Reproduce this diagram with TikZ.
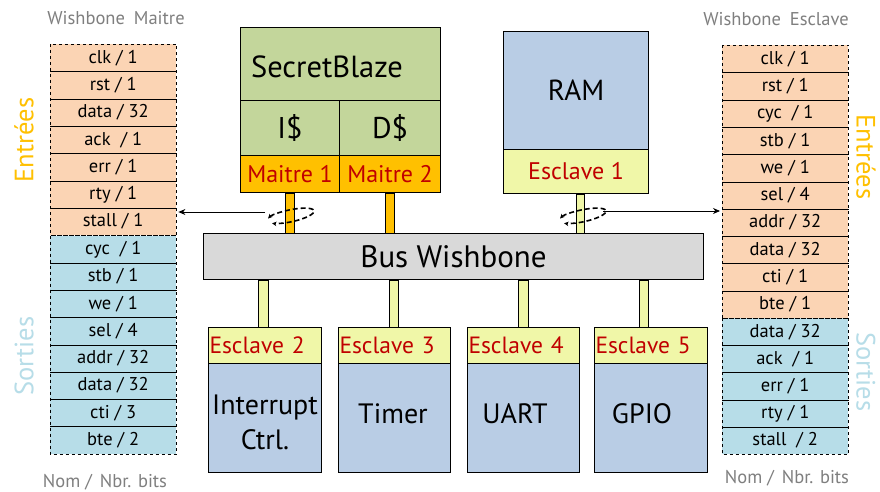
\documentclass[tikz,border=0pt]{standalone}
\usepackage{fontspec}
\setmainfont{PT Sans}
\usetikzlibrary{arrows.meta,calc}
\definecolor{peach}{HTML}{FBD4B4}
\definecolor{lblue}{HTML}{B7DDE8}
\definecolor{entc}{HTML}{FFC000}
\definecolor{sortc}{HTML}{B7DDE8}
\definecolor{hdgray}{HTML}{7F7F7F}
\definecolor{sbgreen}{HTML}{C3D69B}
\definecolor{morange}{HTML}{FFC000}
\definecolor{ramblue}{HTML}{B9CDE5}
\definecolor{eyellow}{HTML}{F0F7A8}
\definecolor{redtxt}{HTML}{C00000}
\definecolor{busgray}{HTML}{D9D9D9}
\newcommand{\fs}[1]{\fontsize{#1}{#1}\selectfont}
\begin{document}
\begin{tikzpicture}[x=1pt,y=-1pt,
  rowcell/.style={anchor=north west, minimum width=126pt, inner sep=0pt, font=\fs{18.5}},
  box/.style={draw=black, line width=1pt, anchor=north west, inner sep=0pt},
  esc/.style={box, fill=eyellow, minimum height=36pt, text width=111pt, inner xsep=1pt, align=left, text=redtxt, font=\fs{23.5}},
  body/.style={box, fill=ramblue, minimum height=109pt},
  hdr/.style={text=hdgray, font=\fs{18.5}},
  sep/.style={line width=0.7pt},
  grp/.style={dashed, line width=0.9pt},
  obar/.style={draw=black, line width=0.8pt, fill=morange},
  ybar/.style={draw=black, line width=0.8pt, fill=eyellow},
  wrap/.style={line width=1.6pt, dash pattern=on 5pt off 3pt, {Stealth[length=4.5pt,width=4.5pt]}-{Stealth[length=4.5pt,width=4.5pt]}},
  link/.style={line width=0.8pt, -{Stealth[length=7pt,width=6pt]}}]
\useasboundingbox (0,0) rectangle (880,492);
\fill[white] (0,0) rectangle (880,492);

% ---------- left table ----------
\foreach \t [count=\i] in {clk / 1, rst / 1, data / 32, ack\ \ / 1, err / 1, rty / 1, stall / 1}
  \node[rowcell, fill=peach, minimum height=27.3pt] (lt\i) at (50, {44+27.3*(\i-1)}) {\t};
\foreach \t [count=\i] in {cyc\ \ / 1, stb / 1, we / 1, sel / 4, addr / 32, data / 32, cti / 3, bte / 2}
  \node[rowcell, fill=lblue, minimum height=27.25pt] (lb\i) at (50, {235.6+27.25*(\i-1)}) {\t};
\foreach \i in {1,...,6} \draw[sep] (lt\i.south west) -- ([xshift=1pt]lt\i.south east);
\foreach \i in {1,...,7} \draw[sep] (lb\i.south west) -- ([xshift=1pt]lb\i.south east);
\draw[grp] (lt1.north west) rectangle (lt7.south east);
\draw[grp] (lb1.north west) rectangle (lb8.south east);

% ---------- right table ----------
\foreach \t [count=\i] in {clk / 1, rst / 1, cyc\ \ / 1, stb / 1, we / 1, sel / 4, addr / 32, data / 32, cti / 1, bte / 1}
  \node[rowcell, fill=peach, minimum height=27.3pt] (rt\i) at (722, {45+27.3*(\i-1)}) {\t};
\foreach \t [count=\i] in {data / 32, ack\ \ / 1, err / 1, rty / 1, stall\ \ / 2}
  \node[rowcell, fill=lblue, minimum height=27.2pt] (rb\i) at (722, {318+27.2*(\i-1)}) {\t};
\foreach \i in {1,...,9} \draw[sep] (rt\i.south west) -- ([xshift=1pt]rt\i.south east);
\foreach \i in {1,...,4} \draw[sep] (rb\i.south west) -- ([xshift=1pt]rb\i.south east);
\draw[grp] (rt1.north west) rectangle (rt10.south east);
\draw[grp] (rb1.north west) rectangle (rb5.south east);

% ---------- side labels ----------
\node[hdr] (hml) at (116,18) {Wishbone\hspace{9pt}Maitre};
\node[hdr] (hmb) at (105,482) {Nom /\hspace{8pt}Nbr. bits};
\node[hdr] (hel) at (776,19) {Wishbone\hspace{9pt}Esclave};
\node[hdr] (heb) at (787,478) {Nom /\hspace{8pt}Nbr. bits};
\node[rotate=90, text=entc, font=\fs{26.5}] (entL) at (24,140) {Entrées};
\node[rotate=90, text=sortc, font=\fs{26.5}] (sorL) at (24,356) {Sorties};
\node[rotate=-90, text=entc, font=\fs{26.5}] (entR) at (866,157) {Entrées};
\node[rotate=-90, text=sortc, font=\fs{26.5}] (sorR) at (866,372) {Sorties};

% ---------- processor ----------
\node[box, fill=sbgreen, minimum width=200pt, minimum height=73pt] (sb) at (240,27) {};
\node[font=\fs{30.5}] (sbt) at (327,67) {SecretBlaze};
\node[box, fill=sbgreen, minimum width=99pt, minimum height=55pt, font=\fs{30}] (ic) at (240,100) {I\$};
\node[box, fill=sbgreen, minimum width=101pt, minimum height=55pt, font=\fs{30}] (dc) at (339,100) {D\$};
\node[box, fill=morange, minimum width=99pt, minimum height=37pt, text=redtxt, font=\fs{24}] (m1) at (240,155) {Maitre 1};
\node[box, fill=morange, minimum width=101pt, minimum height=37pt, text=redtxt, font=\fs{24}] (m2) at (339,155) {Maitre 2};

% ---------- RAM ----------
\node[box, fill=ramblue, minimum width=145pt, minimum height=118pt, font=\fs{29}] (ram) at (503,31) {RAM};
\node[box, fill=eyellow, minimum width=145pt, minimum height=44pt, text=redtxt, font=\fs{24}] (e1) at (503,149) {Esclave 1};

% ---------- bus ----------
\node[box, fill=busgray, minimum width=500pt, minimum height=46pt, font=\fs{31}] (bus) at (203,233) {Bus Wishbone};

% ---------- bottom slaves ----------
\node[esc, minimum width=113pt] (e2) at (208,327) {Esclave 2};
\node[esc, minimum width=112pt, text width=110pt] (e3) at (338,327) {Esclave 3};
\node[esc, minimum width=112pt, text width=110pt] (e4) at (467,327) {Esclave 4};
\node[esc, minimum width=113pt] (e5) at (594,327) {Esclave 5};
\node[body, minimum width=113pt] (b2) at (208,363) {};
\node[body, minimum width=112pt] (b3) at (338,363) {};
\node[body, minimum width=112pt] (b4) at (467,363) {};
\node[body, minimum width=113pt] (b5) at (594,363) {};
\node[align=center, font=\fontsize{28}{35}\selectfont] (t2) at (265,422) {Interrupt\\Ctrl.};
\node[font=\fs{28}] (t3) at (393,414) {Timer};
\node[font=\fs{28}] (t4) at (515,414) {UART};
\node[font=\fs{28}] (t5) at (642,414) {GPIO};

% ---------- bars (bus connections) ----------
\draw[obar] ($(m1.south)+(-4.5,0)$) rectangle ($(m1.south |- bus.north)+(4.5,0)$);
\draw[obar] ($(m2.south)+(-4.5,0)$) rectangle ($(m2.south |- bus.north)+(4.5,0)$);
\draw[ybar] ($(e1.south)+(0.5,0)$) rectangle ($(e1.south |- bus.north)+(8.5,0)$);
\draw[ybar] ($(bus.south -| e2.north)+(-6.5,0)$) rectangle ($(e2.north)+(3.5,0)$);
\draw[ybar] ($(bus.south -| e3.north)+(-5,0)$) rectangle ($(e3.north)+(4,0)$);
\draw[ybar] ($(bus.south -| e4.north)+(-5,0)$) rectangle ($(e4.north)+(5,0)$);
\draw[ybar] ($(bus.south -| e5.north)+(-11.5,0)$) rectangle ($(e5.north)+(-2.5,0)$);

% ---------- wrap symbols and links ----------
\coordinate (wL) at (289,211);
\coordinate (wR) at (581,211);
\draw[wrap, rotate around={12:(wL)}] ($(wL)+(-22,3)$) arc[start angle=200, end angle=505, x radius=24, y radius=6];
\draw[wrap, rotate around={12:(wR)}] ($(wR)+(-22,3)$) arc[start angle=200, end angle=505, x radius=24, y radius=6];
\coordinate (aL) at (265,212);
\coordinate (aR) at (603,211);
\draw[link] (aL) -- ([xshift=2pt]aL -| lt7.east);
\draw[link] (aR) -- ([xshift=-2pt]aR -| rt7.west);
\end{tikzpicture}
\end{document}
